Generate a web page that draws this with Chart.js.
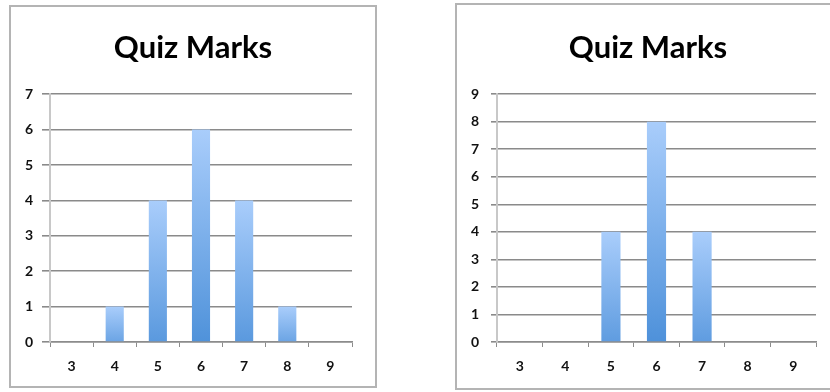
<!DOCTYPE html>
<html>
<head>
<meta charset="utf-8">
<script src="https://cdn.jsdelivr.net/npm/chart.js@4"></script>
<style>
  body{margin:0;background:#fff;width:830px;height:392px;overflow:hidden;position:relative}
  .frame{position:absolute;box-sizing:border-box;border:2px solid #b4b4b4;background:#fff}
  canvas{position:absolute;top:0}
</style>
</head>
<body>
<div class="frame" style="left:9px;top:5px;width:368px;height:383px"></div>
<div class="frame" style="left:455px;top:3px;width:400px;height:387px"></div>
<canvas id="left" width="386" height="392" style="left:0"></canvas>
<canvas id="right" width="386" height="392" style="left:455px"></canvas>
<script>
// data
const marks = ['3','4','5','6','7','8','9'];
const countsA = [0, 1, 4, 6, 4, 1, 0];
const countsB = [0, 0, 4, 8, 4, 0, 0];
const maxA = 7;
const maxB = 9;
const chartTitle = 'Quiz Marks';

const LIGHT = [169, 205, 251];
const DARK = [74, 142, 216];
function mix(a, b, t){ return 'rgb(' + a.map((v,i)=>Math.round(v + (b[i]-v)*t)).join(',') + ')'; }

function barFill(ctx){
  const chart = ctx.chart;
  const area = chart.chartArea;
  if(!area || !chart.scales.y) return mix(LIGHT, DARK, 0.6);
  const y = chart.scales.y;
  const top = y.getPixelForValue(ctx.raw);
  const base = y.getPixelForValue(0);
  if(base - top < 1) return mix(LIGHT, DARK, 0.6);
  const t = (base - top) / (area.bottom - area.top);
  const g = chart.ctx.createLinearGradient(0, top, 0, base);
  g.addColorStop(0, mix(LIGHT, DARK, 0));
  g.addColorStop(1, mix(LIGHT, DARK, 0.6 + 0.4*t));
  return g;
}

const tickFont = { family: 'Lato', weight: 'bold', size: 14 };

function makeChart(id, values, yMax, yWidth, rightWidth, tickLen, labelPad){
  return new Chart(document.getElementById(id), {
    type: 'bar',
    data: {
      labels: marks,
      datasets: [{
        data: values,
        backgroundColor: barFill,
        borderWidth: 0,
        categoryPercentage: 1,
        barPercentage: 0.42
      }]
    },
    options: {
      responsive: false,
      animation: false,
      layout: { padding: 0 },
      plugins: {
        legend: { display: false },
        tooltip: { enabled: false },
        title: {
          display: true,
          text: chartTitle,
          color: '#000',
          font: { family: 'Lato', weight: 'bold', size: 31 },
          padding: { top: 29, bottom: 28 }
        }
      },
      scales: {
        x: {
          offset: true,
          grid: { display: true, drawOnChartArea: false, drawTicks: true, tickLength: 5, color: '#8c8c8c', offset: true },
          border: { display: true, color: '#8c8c8c', width: 1.5 },
          ticks: { color: '#111', padding: 11, font: tickFont },
          afterFit: s => { s.height = 50; }
        },
        y: {
          min: 0, max: yMax,
          grid: { color: '#8a8a8a', lineWidth: 1.6, tickLength: tickLen },
          border: { display: true, color: '#c8c8c8', width: 2 },
          ticks: { stepSize: 1, color: '#111', padding: labelPad, font: tickFont },
          afterFit: s => { s.width = yWidth; }
        },
        // empty axis that only keeps room on the right
        spacer: {
          position: 'right',
          min: 0, max: 1,
          grid: { drawOnChartArea: false, drawTicks: false },
          border: { display: false },
          ticks: { display: false },
          afterFit: s => { s.width = rightWidth; }
        }
      }
    }
  });
}

makeChart('left', countsA, maxA, 50, 34, 8, 9);
makeChart('right', countsB, maxB, 42, 25, 6, 12);
</script>
</body>
</html>
